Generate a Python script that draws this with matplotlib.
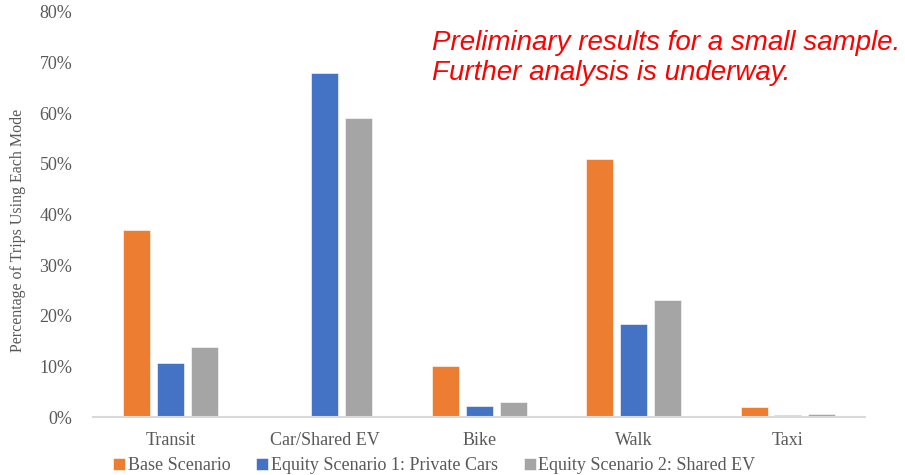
#!/usr/bin/env python

import matplotlib as mpl
mpl.use("Agg")
import matplotlib.pyplot as plt
import matplotlib.ticker as tick
import numpy as np

# mode share per scenario (%)
modes = ["Transit", "Car/Shared EV", "Bike", "Walk", "Taxi"]
base = [37.0, 0.0, 10.0, 51.0, 2.0]
equity_private = [10.7, 68.0, 2.2, 18.4, 0.4]
equity_shared = [13.9, 59.0, 3.0, 23.1, 0.6]

series_names = ["Base Scenario",
                "Equity Scenario 1: Private Cars",
                "Equity Scenario 2: Shared EV"]
series_colors = ["#ED7D31", "#4472C4", "#A5A5A5"]


def main():
    plt.rc('font', family='Liberation Serif', size=13)

    fig = plt.figure(figsize=(9.05, 4.75), dpi=100)
    ax = fig.add_axes([0.103, 0.122, 0.853, 0.853])

    x = np.arange(len(modes))
    step = 0.22
    width = 0.175
    for i, (vals, name, c) in enumerate(zip([base, equity_private, equity_shared],
                                            series_names, series_colors)):
        ax.bar(x + (i - 1) * step, vals, width=width, color=c, label=name,
               edgecolor='white', linewidth=0.4)

    ax.set_xlim(-0.5, len(modes) - 0.5)
    ax.set_ylim(0, 80)
    ax.set_yticks(np.arange(0, 81, 10))
    ax.yaxis.set_major_formatter(tick.FormatStrFormatter('%d%%'))
    ax.set_xticks(x)
    ax.set_xticklabels(modes)
    ax.tick_params(axis='both', length=0, colors='#595959', labelsize=13)
    ax.tick_params(axis='y', pad=15)
    ax.tick_params(axis='x', pad=11)

    for s in ['top', 'right', 'left']:
        ax.spines[s].set_visible(False)
    ax.spines['bottom'].set_color('#D9D9D9')
    ax.spines['bottom'].set_linewidth(1.5)

    # y label sits a bit below the axes centre
    fig.text(0.02, 0.515, 'Percentage of Trips Using Each Mode', color='#595959',
             fontsize=11.5, rotation=90, ha='center', va='center')

    fig.legend(loc='center', bbox_to_anchor=(0.48, 0.02), ncol=3,
               frameon=False, fontsize=13, handlelength=0.65, handleheight=0.65,
               handletextpad=0.15, columnspacing=1.45, labelcolor='#595959',
               borderaxespad=0, borderpad=0)

    fig.text(0.477, 0.937, 'Preliminary results for a small sample.\nFurther analysis is underway.',
             family='Liberation Sans', style='italic', color='red', fontsize=20,
             va='top', ha='left', linespacing=1.2)

    fig.savefig('out.png', dpi=100)


if __name__ == '__main__':
    main()
